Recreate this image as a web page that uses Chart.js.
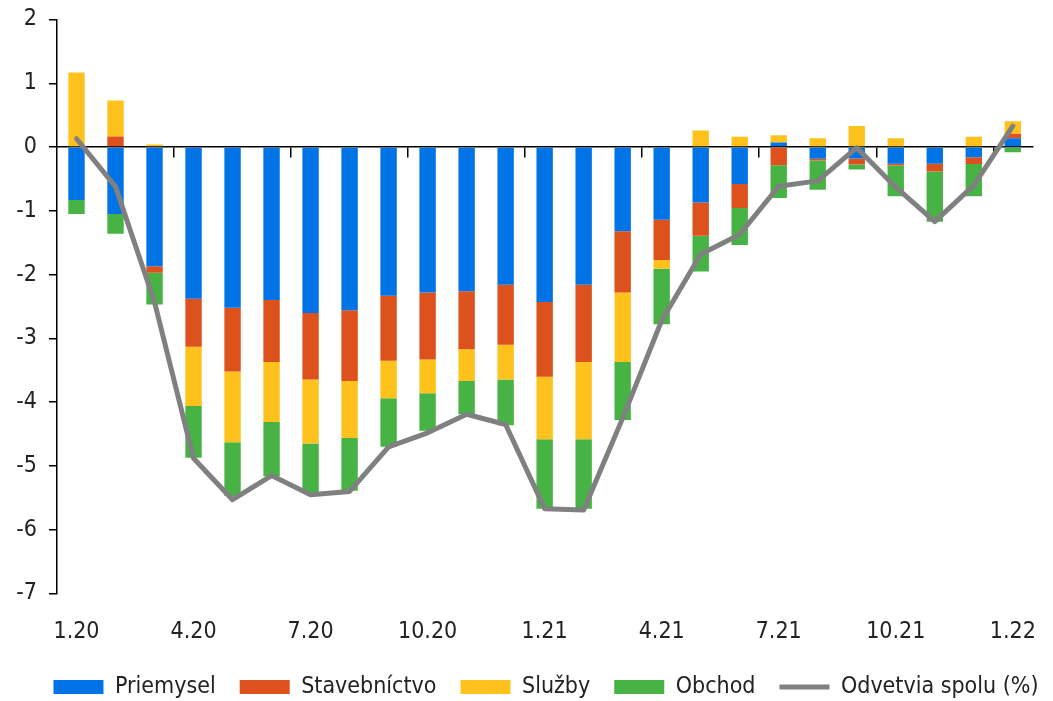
<!DOCTYPE html>
<html>
<head>
<meta charset="utf-8">
<script src="https://cdn.jsdelivr.net/npm/chart.js@4/dist/chart.umd.min.js"></script>
<style>
  html, body { margin: 0; padding: 0; background: #ffffff; }
  #wrap { width: 1053px; height: 701px; }
</style>
</head>
<body>
<div id="wrap"><canvas id="c" width="1053" height="701"></canvas></div>
<script>
// Months 1.20 – 1.22
const categories = ['1.20','2.20','3.20','4.20','5.20','6.20','7.20','8.20','9.20','10.20','11.20','12.20',
                    '1.21','2.21','3.21','4.21','5.21','6.21','7.21','8.21','9.21','10.21','11.21','12.21','1.22'];

// Contributions by sector (p.b.)
const priemysel    = [-0.83,-1.05,-1.87,-2.38,-2.52,-2.40,-2.60,-2.56,-2.33,-2.28,-2.26,-2.16,
                      -2.43,-2.16,-1.32,-1.14,-0.87,-0.58, 0.07,-0.185,-0.18,-0.26,-0.26,-0.16, 0.14];
const stavebnictvo = [ 0.00, 0.165,-0.10,-0.75,-1.00,-0.97,-1.045,-1.11,-1.02,-1.05,-0.91,-0.94,
                      -1.17,-1.21,-0.96,-0.63,-0.52,-0.375,-0.285,-0.025,-0.095,-0.03,-0.125,-0.105, 0.07];
const sluzby       = [ 1.17, 0.565, 0.04,-0.93,-1.11,-0.94,-1.005,-0.89,-0.59,-0.53,-0.50,-0.545,
                      -0.98,-1.21,-1.09,-0.14, 0.26, 0.16, 0.115, 0.14, 0.33, 0.14, 0.00, 0.16, 0.195];
const obchod       = [-0.22,-0.31,-0.50,-0.81,-0.84,-0.85,-0.77,-0.83,-0.76,-0.59,-0.52,-0.715,
                      -1.09,-1.09,-0.91,-0.87,-0.56,-0.58,-0.515,-0.46,-0.075,-0.48,-0.785,-0.505,-0.08];
// All sectors combined (%)
const spolu        = [ 0.13,-0.62,-2.43,-4.88,-5.53,-5.15,-5.45,-5.40,-4.70,-4.48,-4.19,-4.35,
                      -5.67,-5.69,-4.25,-2.72,-1.68,-1.37,-0.615,-0.53,-0.01,-0.63,-1.17,-0.60, 0.33];

// Y axis range
const yMin = -7, yMax = 2, yStep = 1;
const labelEvery = 3;

const FONT = "'DejaVu Sans Condensed', 'DejaVu Sans', sans-serif";
const TEXT = '#222222';

function barSet(label, data, color) {
  return {
    type: 'bar', label, data,
    backgroundColor: color, borderWidth: 0,
    stack: 'sectors', order: 1,
    categoryPercentage: 1.0, barPercentage: 0.42,
    pointStyle: 'rect'
  };
}

// Nudges the legend row to the right of the canvas centre
const legendShift = {
  id: 'legendShift',
  afterLayout(chart, args, opts) {
    const lg = chart.legend;
    if (lg) { lg.left += opts.dx; lg.right += opts.dx; }
  }
};

new Chart(document.getElementById('c'), {
  plugins: [legendShift],
  data: {
    labels: categories,
    datasets: [
      barSet('Priemysel', priemysel, '#0073E6'),
      barSet('Stavebníctvo', stavebnictvo, '#DD521C'),
      barSet('Služby', sluzby, '#FFC21C'),
      barSet('Obchod', obchod, '#48B345'),
      {
        type: 'line', label: 'Odvetvia spolu (%)', data: spolu,
        borderColor: '#808080', backgroundColor: '#808080', borderWidth: 5,
        pointRadius: 0, pointHoverRadius: 0, tension: 0,
        borderJoinStyle: 'round', borderCapStyle: 'round',
        stack: 'total', order: 0, pointStyle: 'line'
      }
    ]
  },
  options: {
    responsive: false,
    animation: false,
    devicePixelRatio: 1,
    layout: { padding: { left: 0, right: 9, top: 19.5, bottom: -7.5 } },
    plugins: {
      tooltip: { enabled: false },
      legendShift: { dx: 24 },
      legend: {
        position: 'bottom',
        labels: {
          usePointStyle: true,
          pointStyleWidth: 50,
          boxHeight: 14,
          padding: 24,
          color: TEXT,
          font: { family: FONT, size: 23 },
          sort: (a, b) => a.datasetIndex - b.datasetIndex
        }
      }
    },
    scales: {
      x: {
        type: 'category',
        offset: true,
        grid: { display: false },
        border: { display: false },
        ticks: {
          autoSkip: false, maxRotation: 0, padding: 17,
          color: TEXT, font: { family: FONT, size: 23 },
          callback: (v, i) => (i % labelEvery === 0 ? categories[i] : '')
        },
        afterFit: (s) => { s.height = 58; }
      },
      x2: {
        type: 'category',
        position: { y: 0 },
        offset: true,
        ticks: { display: false },
        border: { display: true, color: '#000000', width: 1.5 },
        grid: {
          display: true, drawOnChartArea: false, drawTicks: true, tickLength: 10,
          offset: true, lineWidth: 1.5,
          color: (ctx) => (ctx.index > 0 && ctx.index % labelEvery === 0 ? '#000000' : 'rgba(0,0,0,0)')
        }
      },
      y: {
        stacked: true,
        min: yMin, max: yMax,
        ticks: { stepSize: yStep, padding: 12, color: TEXT, font: { family: FONT, size: 23 } },
        grid: { display: true, drawOnChartArea: false, drawTicks: true, tickLength: 8, color: '#000000', lineWidth: 1.5 },
        border: { display: true, color: '#000000', width: 1.5 },
        afterFit: (s) => { s.width = 57; s.paddingTop = 0; s.paddingBottom = 0; }
      }
    }
  }
});
</script>
</body>
</html>
